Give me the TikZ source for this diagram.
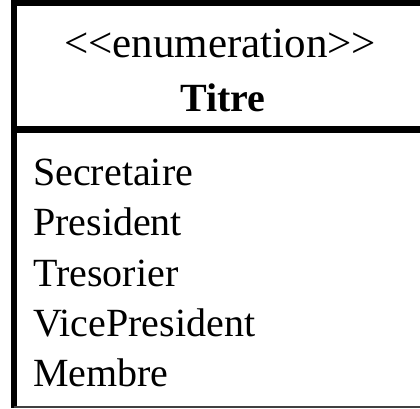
\documentclass[tikz,border=0pt]{standalone}
\usepackage{fontspec}
\setmainfont{Liberation Serif}
\begin{document}
\begin{tikzpicture}[x=1pt,y=1pt,
  frame/.style={line width=6pt, black},
  hdr/.style={anchor=base, inner sep=0pt, font=\fontsize{43}{50}\selectfont},
  ttl/.style={anchor=base, inner sep=0pt, font=\fontsize{40}{48}\selectfont\bfseries},
  item/.style={anchor=base west, inner sep=0pt, font=\fontsize{40}{48}\selectfont}]
\useasboundingbox (0,0) rectangle (420,408);
\clip (0,0) rectangle (420,408);
% frame
\coordinate (tl) at (14,404.5);
\coordinate (tr) at (430,404.5);
\coordinate (bl) at (14,1.2);
\coordinate (br) at (430,1.2);
\coordinate (dl) at (14,278.3);
\coordinate (dr) at (430,278.3);
\draw[frame] (11,404.5) -- (tr);
\draw[frame] (14,407.5) -- (14,0.5);
\draw[frame, line width=6.5pt] (dl) -- (dr);
\draw[line width=1.5pt, black!75] (bl) -- (br);
% texts
\node[hdr] (stereo) at (220,350) {{<}{<}enumeration{>}{>}};
\node[ttl] (name) at (223,297) {Titre};
\node[item] (i1) at (33,223) {Secretaire};
\node[item] (i2) at (33,173) {President};
\node[item] (i3) at (33,122) {Tresorier};
\node[item] (i4) at (33,72) {VicePresident};
\node[item] (i5) at (33,22) {Membre};
\end{tikzpicture}
\end{document}
